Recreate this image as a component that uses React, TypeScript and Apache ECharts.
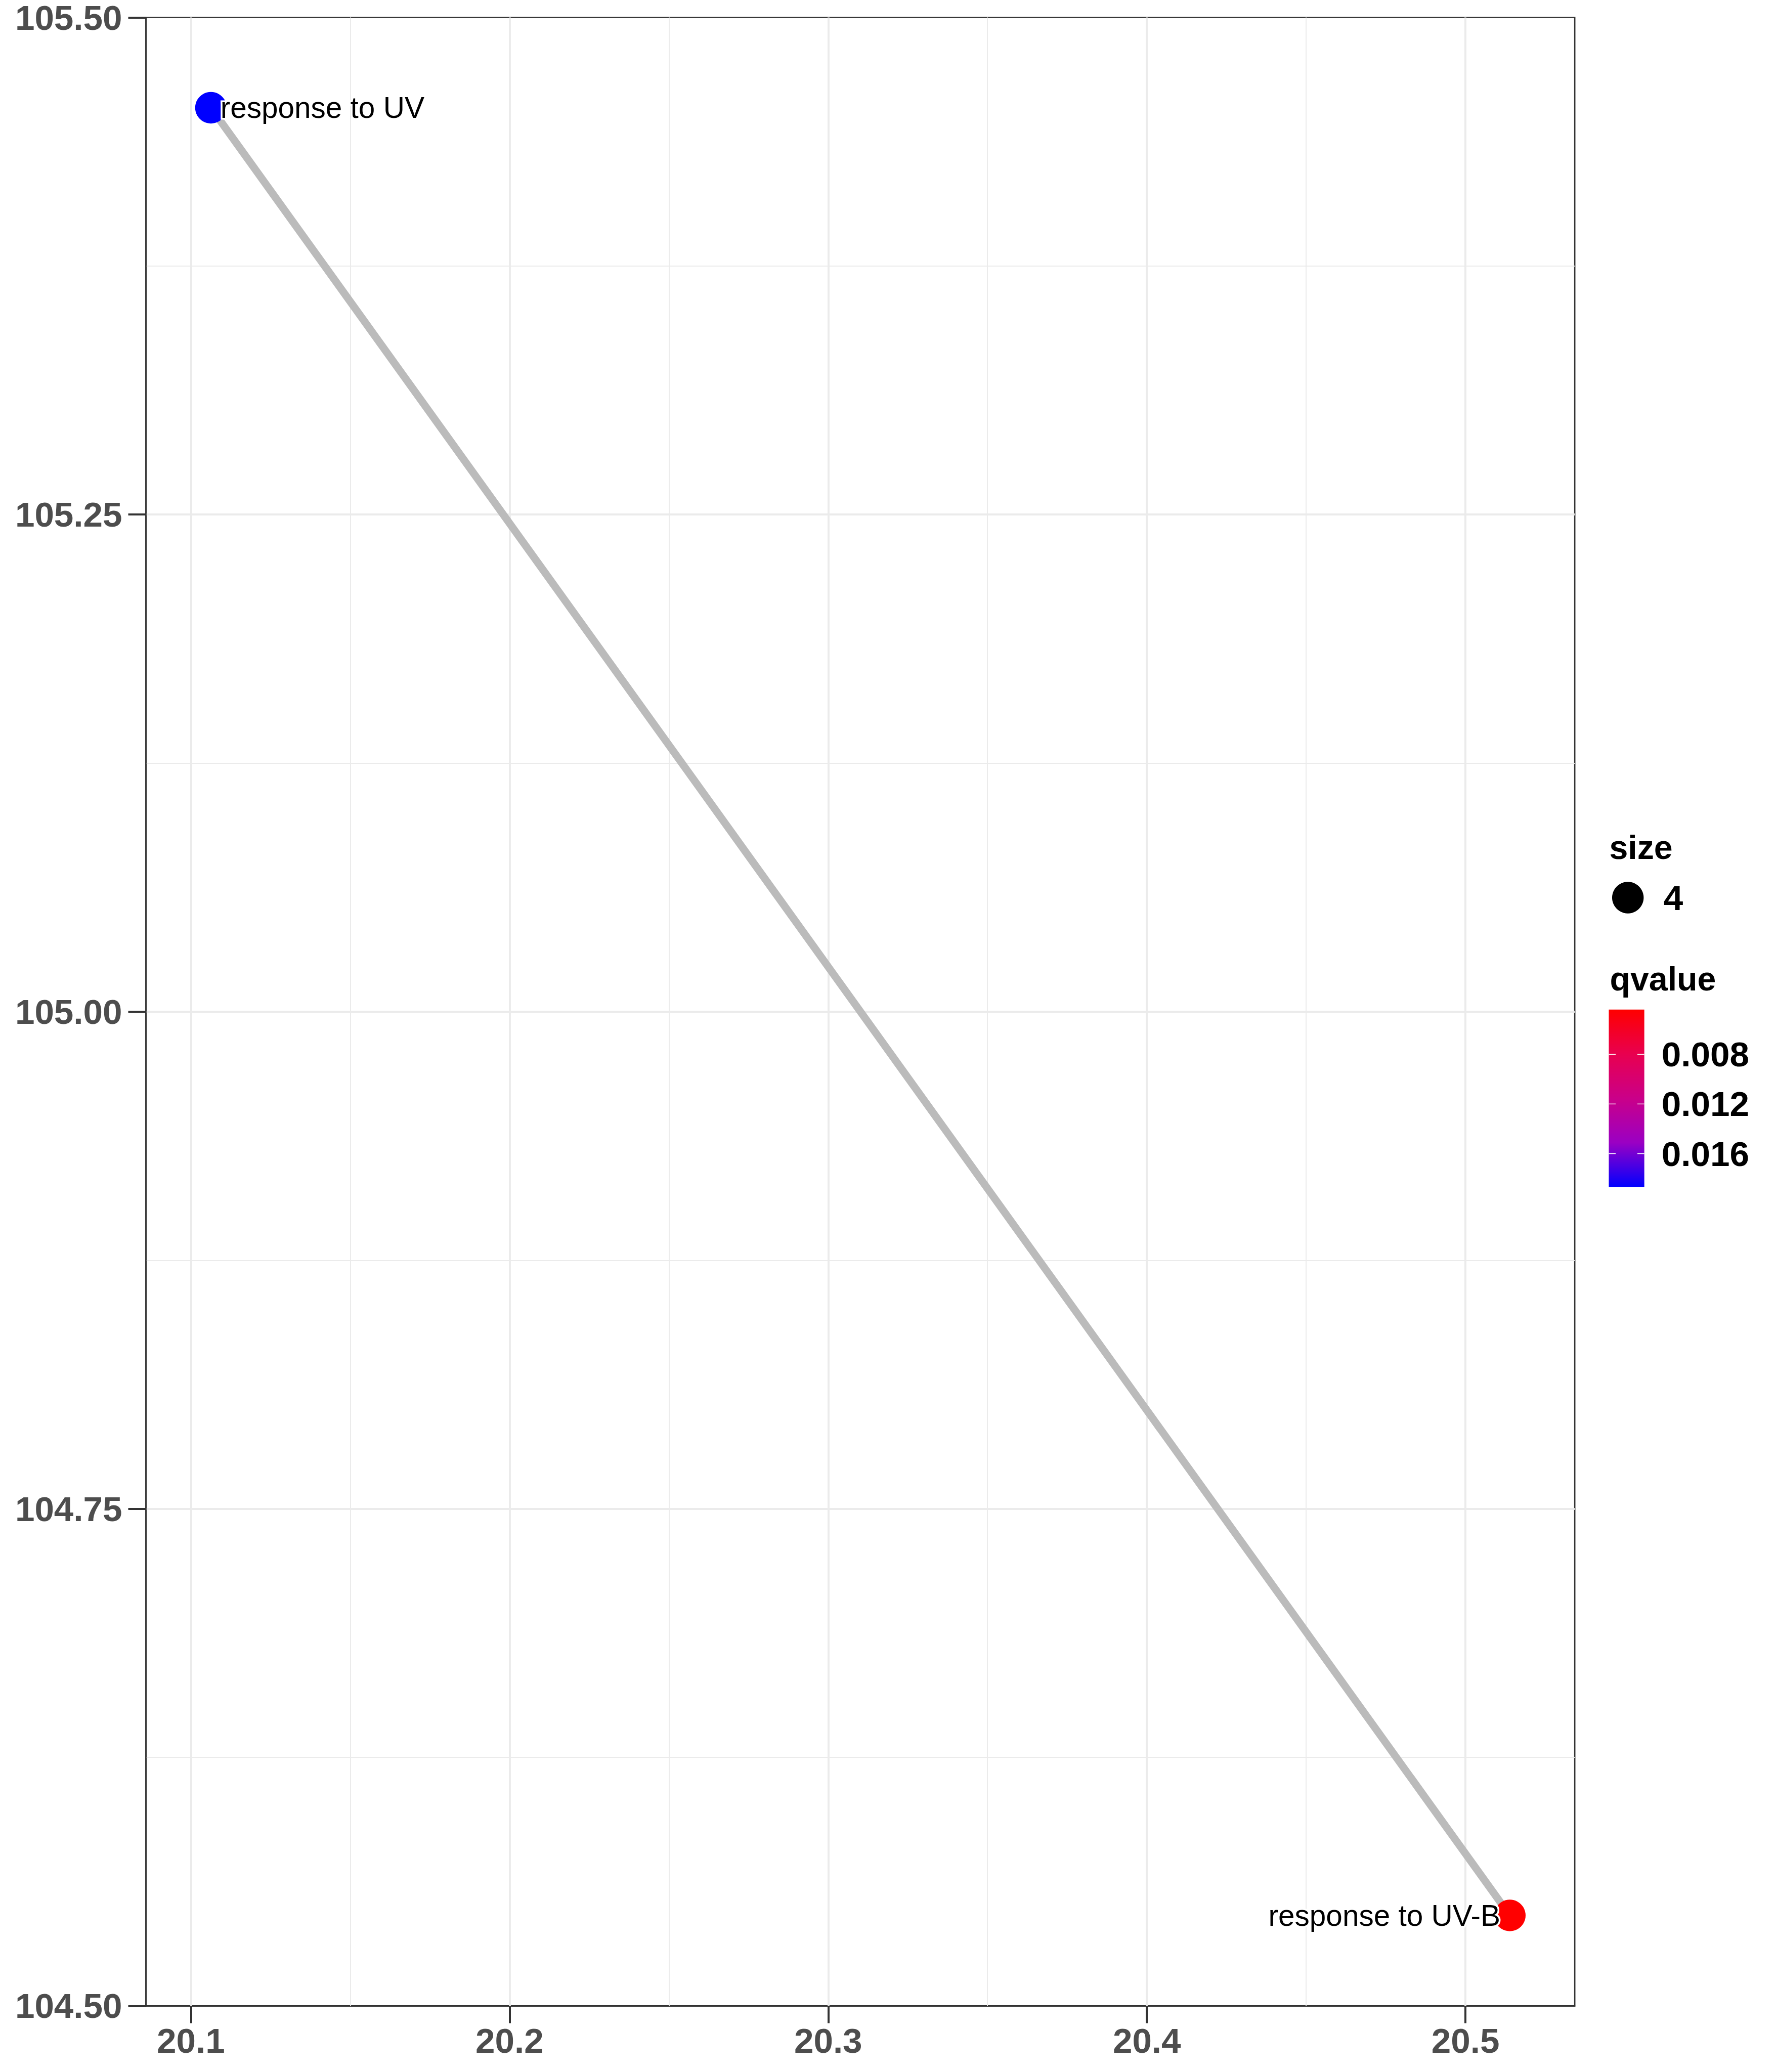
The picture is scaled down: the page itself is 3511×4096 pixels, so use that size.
import React, { useEffect, useRef } from 'react';
import * as echarts from 'echarts';

// ---- data ----
const categories = ['response to UV', 'response to UV-B'];
const xValues = [20.1063, 20.5139];
const yValues = [105.4546, 104.5455];
const qValues = [0.0187, 0.0044];
const sizeBreaks = [4];
const xTicks = [20.1, 20.2, 20.3, 20.4, 20.5];
const xMinorTicks = [20.15, 20.25, 20.35, 20.45];
const yLimits = [104.5, 105.5];
const yInterval = 0.25;
const qTicks = [0.008, 0.012, 0.016];
const gradientColors = ['#FF0000', '#E8004F', '#CA0089', '#9A00C3', '#0000FF'];

const S = 0.975;
const FONT = '"Liberation Sans", Arial, Helvetica, sans-serif';
const W = 3511;
const H = 4096;

export default function App() {
  const ref = useRef<HTMLDivElement>(null);
  useEffect(() => {
    if (!ref.current) return;
    const chart = echarts.init(ref.current, null, { renderer: 'svg' });

    const xLo = Math.min(...xValues);
    const xHi = Math.max(...xValues);
    const xPad = (xHi - xLo) * 0.05;
    const xMin = xLo - xPad;
    const xMax = xHi + xPad;
    const xMid = (xLo + xHi) / 2;

    const qMin = Math.min(...qValues);
    const qMax = Math.max(...qValues);

    // panel layout (reference px * S)
    const gLeft = 296 * S;
    const gTop = 23 * S;
    const gRight = 3193 * S;
    const gBottom = 4067 * S;

    const scatterData = categories.map((name, i) => {
      const onRight = xValues[i] > xMid;
      return {
        name,
        value: [xValues[i], yValues[i], qValues[i]],
        label: {
          show: true,
          formatter: '{b}',
          position: onRight ? ['20%', '50%'] : ['80%', '50%'],
          align: onRight ? 'right' : 'left',
          verticalAlign: 'middle',
          fontSize: 60 * S,
          fontFamily: FONT,
          color: '#000000',
          opacity: 1,
          textBorderColor: '#FFFFFF',
          textBorderWidth: 7,
        },
      };
    });

    const gridLineData = [
      ...xTicks.map((v) => ({ xAxis: v, lineStyle: { color: '#EBEBEB', width: 4 * S, type: 'solid' } })),
      ...xMinorTicks.map((v) => ({ xAxis: v, lineStyle: { color: '#EBEBEB', width: 2 * S, type: 'solid' } })),
    ];

    // legend layout
    const barX = 3262 * S;
    const barY = 2047 * S;
    const barW = 72 * S;
    const barH = 360 * S;
    const tickLen = 14 * S;

    const graphics: any[] = [
      {
        type: 'text',
        x: 3263 * S,
        y: (1742 - 0.35 * 68) * S,
        style: { text: 'size', fontSize: 68 * S, fontWeight: 'bold', fontFamily: FONT, fill: '#000', textAlign: 'left', textVerticalAlign: 'middle' },
      },
      {
        type: 'circle',
        shape: { cx: 3300.7 * S, cy: 1820 * S, r: 32 * S },
        style: { fill: '#000000' },
      },
      {
        type: 'text',
        x: 3373 * S,
        y: 1820 * S,
        style: { text: String(sizeBreaks[0]), fontSize: 71 * S, fontWeight: 'bold', fontFamily: FONT, fill: '#000', textAlign: 'left', textVerticalAlign: 'middle' },
      },
      {
        type: 'text',
        x: 3264 * S,
        y: (2008 - 0.35 * 68) * S,
        style: { text: 'qvalue', fontSize: 68 * S, fontWeight: 'bold', fontFamily: FONT, fill: '#000', textAlign: 'left', textVerticalAlign: 'middle' },
      },
      {
        type: 'rect',
        shape: { x: barX, y: barY, width: barW, height: barH },
        style: {
          fill: {
            type: 'linear', x: 0, y: 0, x2: 0, y2: 1,
            colorStops: gradientColors.map((c, i) => ({ offset: i / (gradientColors.length - 1), color: c })),
          },
        },
      },
    ];
    qTicks.forEach((q) => {
      const ty = barY + ((q - qMin) / (qMax - qMin)) * barH;
      graphics.push({
        type: 'line',
        shape: { x1: barX, y1: ty, x2: barX + tickLen, y2: ty },
        style: { stroke: '#FFFFFF', lineWidth: 1.5 },
      });
      graphics.push({
        type: 'line',
        shape: { x1: barX + barW - tickLen, y1: ty, x2: barX + barW, y2: ty },
        style: { stroke: '#FFFFFF', lineWidth: 1.5 },
      });
      graphics.push({
        type: 'text',
        x: 3369 * S,
        y: ty,
        style: { text: q.toFixed(3), fontSize: 71 * S, fontWeight: 'bold', fontFamily: FONT, fill: '#000', textAlign: 'left', textVerticalAlign: 'middle' },
      });
    });

    const option: any = {
      animation: false,
      backgroundColor: '#FFFFFF',
      grid: {
        left: gLeft,
        top: gTop,
        width: gRight - gLeft,
        height: gBottom - gTop,
        show: true,
        borderColor: '#333333',
        borderWidth: 2.6,
        backgroundColor: 'transparent',
        containLabel: false,
      },
      xAxis: {
        type: 'value',
        min: xMin,
        max: xMax,
        axisLine: { show: true, lineStyle: { color: '#333333', width: 2.6 } },
        axisTick: { show: true, customValues: xTicks, length: 35 * S, lineStyle: { color: '#333333', width: 4 } },
        axisLabel: {
          show: true,
          customValues: xTicks,
          formatter: (v: number) => v.toFixed(1),
          fontSize: 71 * S,
          fontWeight: 'bold',
          fontFamily: FONT,
          color: '#4D4D4D',
          margin: 34,
        },
        splitLine: { show: false },
      },
      yAxis: {
        type: 'value',
        min: yLimits[0],
        max: yLimits[1],
        interval: yInterval,
        axisLine: { show: true, lineStyle: { color: '#333333', width: 2.6 } },
        axisTick: { show: true, length: 36 * S, lineStyle: { color: '#333333', width: 4 } },
        minorTick: { show: false, splitNumber: 2 },
        axisLabel: {
          show: true,
          formatter: (v: number) => v.toFixed(2),
          fontSize: 71 * S,
          fontWeight: 'bold',
          fontFamily: FONT,
          color: '#4D4D4D',
          margin: 47,
          showMinLabel: true,
          showMaxLabel: true,
        },
        splitLine: { show: true, showMinLine: false, showMaxLine: false, lineStyle: { color: '#EBEBEB', width: 4 * S } },
        minorSplitLine: { show: true, lineStyle: { color: '#EBEBEB', width: 2 * S } },
      },
      visualMap: {
        show: false,
        type: 'continuous',
        seriesIndex: 2,
        dimension: 2,
        min: qMin,
        max: qMax,
        inRange: { color: gradientColors },
      },
      series: [
        {
          type: 'line',
          z: 1,
          silent: true,
          data: xValues.map((x, i) => [x, yValues[i]]),
          showSymbol: false,
          symbol: 'none',
          lineStyle: { opacity: 0, width: 0 },
          markLine: {
            z: 1,
            silent: true,
            symbol: ['none', 'none'],
            label: { show: false },
            data: gridLineData,
          },
        },
        {
          type: 'line',
          z: 2,
          silent: true,
          data: xValues.map((x, i) => [x, yValues[i]]),
          symbol: 'none',
          showSymbol: false,
          lineStyle: { color: '#BBBBBB', width: 15, cap: 'butt', opacity: 1 },
        },
        {
          type: 'scatter',
          z: 3,
          silent: true,
          symbol: 'circle',
          symbolSize: 64 * S,
          itemStyle: { opacity: 1 },
          data: scatterData,
        },
      ],
      graphic: graphics,
    };

    chart.setOption(option);
    return () => chart.dispose();
  }, []);

  return <div ref={ref} style={{ position: 'absolute', left: 0, top: 0, width: W, height: H }} />;
}
